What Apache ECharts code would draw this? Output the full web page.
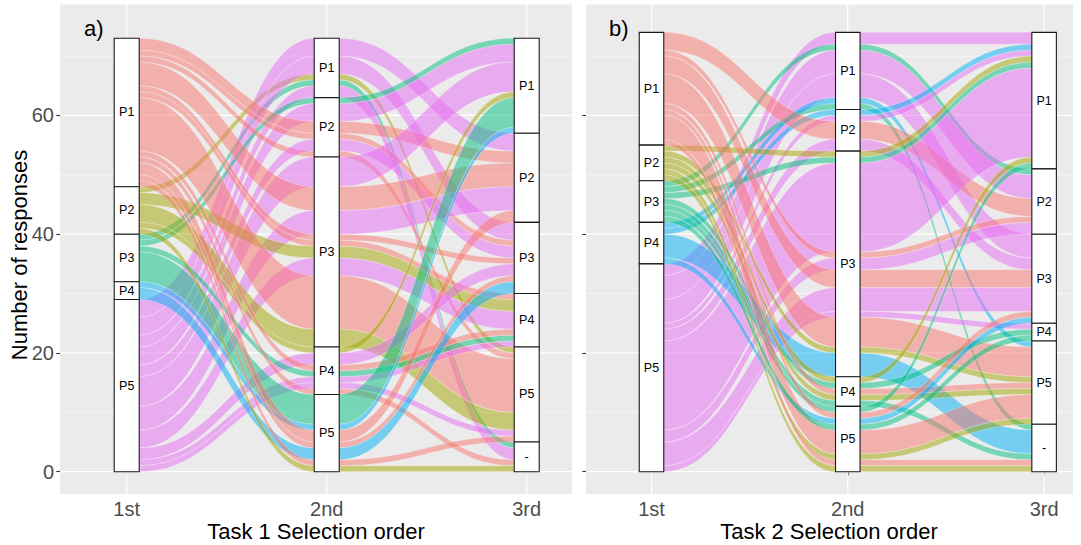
<!DOCTYPE html>
<html><head><meta charset="utf-8">
<script src="https://cdn.jsdelivr.net/npm/echarts@6/dist/echarts.min.js"></script>
<style>html,body{margin:0;padding:0;background:#fff}#c{width:1081px;height:545px}</style>
</head><body><div id="c"></div>
<script>
// ---------------- data ----------------
const AXES = ['1st', '2nd', '3rd'];
const STRATA = ['P1', 'P2', 'P3', 'P4', 'P5', '-'];      // top to bottom
const FILL_LEVELS = ['P1', 'P2', 'P3', 'P4', 'P5'];       // fill = stratum at 1st axis
const Y_TICKS = [0, 20, 40, 60];
const Y_MINOR = [10, 30, 50, 70];
const PANEL_TAGS = ['a)', 'b)'];
const X_TITLES = ['Task 1 Selection order', 'Task 2 Selection order'];
const Y_TITLE = 'Number of responses';
// alluvia: [1st, 2nd, 3rd, number of responses]
const TASK1_PATHS = [
  ['P3','P1','-',1], ['P2','P1','P5',1], ['P5','P1','P2',3], ['P5','P1','P3',3], ['P5','P1','-',2],
  ['P3','P2','P1',1], ['P5','P2','P1',3], ['P1','P2','P2',2], ['P1','P2','P3',1], ['P1','P2','P5',1], ['P5','P2','P3',2],
  ['P5','P3','P1',5], ['P1','P3','P2',4], ['P5','P3','P2',4], ['P1','P3','P3',1], ['P2','P3','P4',2],
  ['P5','P3','P4',3], ['P1','P3','P4',1], ['P1','P3','P5',9], ['P2','P3','P5',3],
  ['P2','P4','P1',1], ['P5','P4','P3',2], ['P5','P4','P4',1], ['P3','P4','P4',1], ['P1','P4','P4',1],
  ['P1','P4','-',1], ['P5','P4','P5',1],
  ['P3','P5','P1',5], ['P4','P5','P1',1], ['P1','P5','P2',2], ['P1','P5','P3',1], ['P4','P5','P3',2],
  ['P1','P5','P5',1], ['P2','P5','-',1]
];
const TASK2_PATHS = [
  ['P5','P1','P1',2], ['P3','P1','P2',1], ['P5','P1','P2',4], ['P5','P1','P3',4], ['P3','P1','-',1], ['P4','P1','P5',1],
  ['P4','P2','P1',1], ['P5','P2','P1',1], ['P1','P2','P2',3], ['P5','P2','P3',2],
  ['P5','P3','P1',15], ['P3','P3','P1',1], ['P2','P3','P1',1], ['P1','P3','P2',1], ['P5','P3','P2',2],
  ['P1','P3','P3',3], ['P5','P3','P3',4], ['P5','P3','P4',1], ['P1','P3','P5',5], ['P2','P3','P5',1], ['P4','P3','-',4],
  ['P2','P4','P1',1], ['P3','P4','P4',1], ['P1','P4','P5',1], ['P2','P4','P5',1], ['P3','P4','-',1],
  ['P3','P5','P1',1], ['P1','P5','P3',1], ['P4','P5','P3',1], ['P1','P5','P5',4], ['P2','P5','P5',1],
  ['P1','P5','-',1], ['P2','P5','-',1], ['P3','P5','P4',1]
];

// ---------------- style ----------------
const COLORS = ['#F8766D', '#A3A500', '#00BF7D', '#00B0F6', '#E76BF3'];
const FONT = '"Liberation Sans", Arial, Helvetica, sans-serif';
const HW = 1 / 16;   // half stratum width (axis units)
const CF = 0.45;     // curve control fraction
const GRIDS = [
  { left: 60, top: 4.5, width: 512, height: 489.5, xmin: 1 - 66.7 / 200, xmax: 1 + (572 - 126.7) / 200 },
  { left: 586, top: 4.5, width: 487, height: 489.5, xmin: 1 - 65.5 / 196.3, xmax: 1 + (1073 - 651.5) / 196.3 }
];
const YMIN = -3.76, YMAX = 78.69;

function hexA(h, a) {
  const r = parseInt(h.slice(1, 3), 16), g = parseInt(h.slice(3, 5), 16), b = parseInt(h.slice(5, 7), 16);
  return `rgba(${r},${g},${b},${a})`;
}

// ggalluvial-like lode ordering (zigzag guidance, reverse = TRUE)
function buildPanel(paths) {
  const lv = s => STRATA.indexOf(s);
  const orders = [[0, 1, 2], [1, 2, 0], [2, 1, 0]];
  const total = paths.reduce((a, p) => a + p[3], 0);
  const span = paths.map(() => []);
  for (let ax = 0; ax < 3; ax++) {
    const idx = paths.map((_, i) => i).sort((a, b) => {
      for (const k of orders[ax]) { const d = lv(paths[a][k]) - lv(paths[b][k]); if (d) return d; }
      return a - b;
    });
    let y = total;
    idx.forEach(i => { span[i][ax] = [y, y - paths[i][3]]; y -= paths[i][3]; });
  }
  const flows = paths.map((p, i) => [span[i][0][0], span[i][0][1], span[i][1][0], span[i][1][1],
    span[i][2][0], span[i][2][1], FILL_LEVELS.indexOf(p[0])]);
  const boxes = [], labels = [];
  for (let ax = 0; ax < 3; ax++) {
    let y = total;
    STRATA.forEach(s => {
      const c = paths.filter(p => p[ax] === s).reduce((a, p) => a + p[3], 0);
      if (c > 0) { boxes.push([ax + 1, y, y - c]); labels.push(s); y -= c; }
    });
  }
  return { flows, boxes, labels };
}

const panels = [buildPanel(TASK1_PATHS), buildPanel(TASK2_PATHS)];

function renderFlow(params, api) {
  const t = [api.value(0), api.value(2), api.value(4)];
  const b = [api.value(1), api.value(3), api.value(5)];
  const c = api.value(6);
  const P = (x, y) => api.coord([x, y]);
  const f = p => p[0].toFixed(2) + ',' + p[1].toFixed(2);
  let d = 'M' + f(P(1 - HW, t[0]));
  for (let k = 0; k < 3; k++) {
    d += 'L' + f(P(k + 1 + HW, t[k]));
    if (k < 2) {
      const x0 = k + 1 + HW, x1 = k + 2 - HW, g = x1 - x0;
      d += 'C' + f(P(x0 + g * CF, t[k])) + ' ' + f(P(x1 - g * CF, t[k + 1])) + ' ' + f(P(x1, t[k + 1]));
    }
  }
  d += 'L' + f(P(3 + HW, b[2]));
  for (let k = 2; k >= 0; k--) {
    d += 'L' + f(P(k + 1 - HW, b[k]));
    if (k > 0) {
      const x0 = k + 1 - HW, x1 = k + HW, g = x0 - x1;
      d += 'C' + f(P(x0 - g * CF, b[k])) + ' ' + f(P(x1 + g * CF, b[k - 1])) + ' ' + f(P(x1, b[k - 1]));
    }
  }
  d += 'Z';
  return {
    type: 'path', shape: { pathData: d },
    style: { fill: hexA(COLORS[c], 0.5), stroke: 'rgba(255,255,255,0.4)', lineWidth: 0.6 }
  };
}

function makeBoxRenderer(labels) {
  return function (params, api) {
    const x = api.value(0), hi = api.value(1), lo = api.value(2);
    const p1 = api.coord([x - HW, hi]), p2 = api.coord([x + HW, lo]);
    return {
      type: 'group', children: [
        { type: 'rect', shape: { x: p1[0], y: p1[1], width: p2[0] - p1[0], height: p2[1] - p1[1] },
          style: { fill: '#fff', stroke: '#1a1a1a', lineWidth: 1.1 } },
        { type: 'text', style: { text: labels[params.dataIndex], x: (p1[0] + p2[0]) / 2, y: (p1[1] + p2[1]) / 2,
          align: 'center', verticalAlign: 'middle', fontSize: 12.5, fontFamily: FONT, fill: '#000' } }
      ]
    };
  };
}

function renderHGrid(params, api) {
  const cs = params.coordSys, p = api.coord([1, api.value(0)]);
  return { type: 'line', shape: { x1: cs.x, y1: p[1], x2: cs.x + cs.width, y2: p[1] },
    style: { stroke: '#fff', lineWidth: api.value(1) ? 1.2 : 0.6 } };
}
function renderVGrid(params, api) {
  const cs = params.coordSys, p = api.coord([api.value(0), 0]);
  return { type: 'line', shape: { x1: p[0], y1: cs.y, x2: p[0], y2: cs.y + cs.height },
    style: { stroke: '#fff', lineWidth: 1.2 } };
}

const grid = GRIDS.map(g => ({ left: g.left, top: g.top, width: g.width, height: g.height,
  show: true, backgroundColor: '#EBEBEB', borderWidth: 0 }));

const xAxis = GRIDS.map((g, i) => ({
  type: 'value', gridIndex: i, min: g.xmin, max: g.xmax,
  axisLine: { show: false }, splitLine: { show: false },
  axisTick: { show: true, length: 3.7, customValues: [1, 2, 3], lineStyle: { color: '#333', width: 1.1 } },
  axisLabel: { show: true, customValues: [1, 2, 3], formatter: v => AXES[Math.round(v) - 1],
    fontSize: 20, lineHeight: 19, fontFamily: FONT, color: '#4D4D4D', margin: 5 }
}));
const yAxis = GRIDS.map((g, i) => ({
  type: 'value', gridIndex: i, min: YMIN, max: YMAX,
  axisLine: { show: false }, splitLine: { show: false },
  axisTick: { show: true, length: 3.7, customValues: Y_TICKS, lineStyle: { color: '#333', width: 1.1 } },
  axisLabel: { show: i === 0, customValues: Y_TICKS, fontSize: 20, fontFamily: FONT, color: '#4D4D4D', margin: 6 }
}));

const series = [];
panels.forEach((pn, i) => {
  series.push({ type: 'custom', xAxisIndex: i, yAxisIndex: i, z: 1, silent: true,
    data: Y_MINOR.map(v => [v, 0]).concat(Y_TICKS.map(v => [v, 1])), renderItem: renderHGrid });
  series.push({ type: 'custom', xAxisIndex: i, yAxisIndex: i, z: 1, silent: true,
    data: [1, 2, 3].map(v => [v]), renderItem: renderVGrid });
  series.push({ type: 'custom', xAxisIndex: i, yAxisIndex: i, z: 2, silent: true,
    data: pn.flows, renderItem: renderFlow });
  series.push({ type: 'custom', xAxisIndex: i, yAxisIndex: i, z: 3, silent: true,
    data: pn.boxes, renderItem: makeBoxRenderer(pn.labels) });
});

const graphic = [
  { type: 'text', left: 84, top: 17, style: { text: PANEL_TAGS[0], fontSize: 22, fontFamily: FONT, fill: '#000' } },
  { type: 'text', left: 609, top: 17, style: { text: PANEL_TAGS[1], fontSize: 22, fontFamily: FONT, fill: '#000' } },
  { type: 'text', x: 316, y: 531, style: { text: X_TITLES[0], fontSize: 22, lineHeight: 22, fontFamily: FONT, fill: '#000', align: 'center', verticalAlign: 'middle' } },
  { type: 'text', x: 829, y: 531, style: { text: X_TITLES[1], fontSize: 22, lineHeight: 22, fontFamily: FONT, fill: '#000', align: 'center', verticalAlign: 'middle' } },
  { type: 'text', x: 19, y: 255, rotation: Math.PI / 2, style: { text: Y_TITLE, fontSize: 22, fontFamily: FONT, fill: '#000', align: 'center', verticalAlign: 'middle' } }
];

const chart = echarts.init(document.getElementById('c'), null, { renderer: 'svg' });
chart.setOption({ animation: false, backgroundColor: '#fff', grid, xAxis, yAxis, series, graphic });
</script></body></html>
